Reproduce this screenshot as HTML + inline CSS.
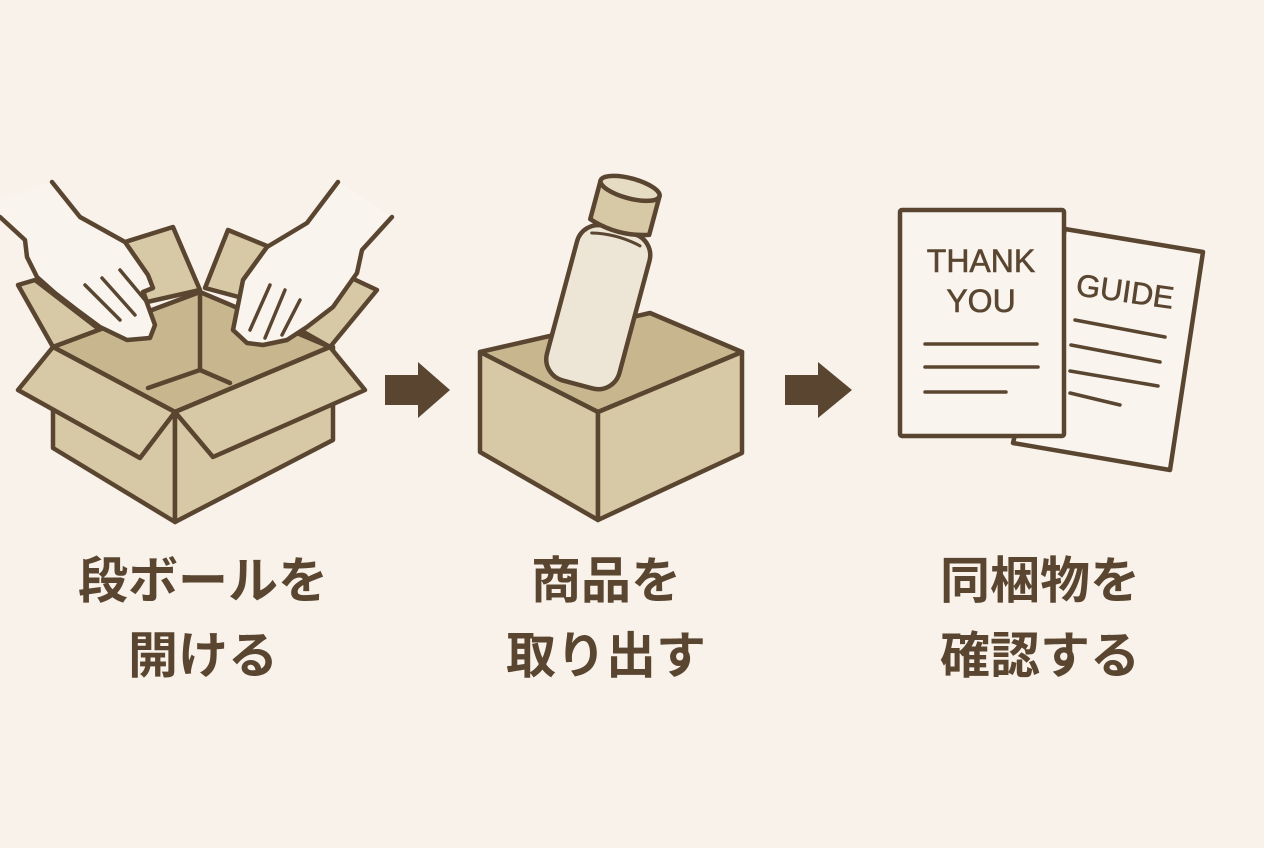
<!DOCTYPE html>
<html><head><meta charset="utf-8"><style>
html,body{margin:0;padding:0;background:#f8f2ea;}
svg{display:block}
.t{font-family:"Liberation Sans","Noto Sans CJK JP",sans-serif;font-weight:700;fill:#5a4630;}
</style></head><body>
<svg width="1264" height="848" viewBox="0 0 1264 848" xmlns="http://www.w3.org/2000/svg">
<rect width="1264" height="848" fill="#f8f2ea"/>
<g stroke="#5a4630" stroke-width="4.5" stroke-linejoin="round" stroke-linecap="round">
<!-- Box 1 -->
<polygon points="125,242 173,227 200,290 147,302" fill="#d8c9a6"/>
<polygon points="205,288 228,230 272,248 250,300" fill="#d8c9a6"/>
<polygon points="18,285 35,280 100,330 53,347" fill="#d8c9a6"/>
<polygon points="330,347 377,290 345,275 300,330" fill="#d8c9a6"/>
<polygon points="53,347 200,292 330,347 175,412" fill="#c8b68f"/>
<polyline points="200,292 200,370 148,388" fill="none"/>
<line x1="200" y1="370" x2="230" y2="383"/>
<polygon points="53,347 175,412 175,522 53,448" fill="#d8c9a6"/>
<polygon points="175,412 333,347 333,440 175,522" fill="#d8c9a6"/>
<polygon points="53,347 175,412 140,458 18,390" fill="#d8c9a6"/>
<polygon points="175,412 330,347 365,390 213,457" fill="#d8c9a6"/>
<!-- left hand -->
<path d="M52,182 L80,217 L125,242 L148,275 L153,288 L143,292 L155,325 L150,338 L127,340 L100,327 L77,310 L55,293 L37,277 L27,257 L25,240 L0,217 L0,200 Z" fill="#f9f5ee" stroke="none"/>
<path d="M52,182 L80,217 L125,242 L148,275 L153,288 L143,292 L155,325 L150,338 L127,340 L100,327 L77,310 L55,293 L37,277 L27,257 L25,240 L0,217" fill="none"/>
<path d="M85,285 L120,320 M102,278 L135,315 M120,270 L145,300" fill="none" stroke-width="3.5"/>
<!-- right hand -->
<path d="M338,182 L307,223 L267,247 L243,280 L233,330 L247,343 L263,345 L287,340 L307,327 L333,307 L357,273 L362,250 L392,217 Z" fill="#f9f5ee" stroke="none"/>
<path d="M338,182 L307,223 L267,247 L243,280 L233,330 L247,343 L263,345 L287,340 L307,327 L333,307 L357,273 L362,250 L392,217" fill="none"/>
<path d="M270,285 L250,330 M285,290 L265,338 M300,300 L282,335" fill="none" stroke-width="3.5"/>
<!-- arrows -->
<path d="M385,375 L418,375 L418,362 L450,390 L418,418 L418,405 L385,405 Z" fill="#5a4630" stroke="none"/>
<path d="M785,375 L818,375 L818,362 L852,390 L818,418 L818,405 L785,405 Z" fill="#5a4630" stroke="none"/>
<!-- Box 2 -->
<polygon points="480,352 650,313 742,352 598,412" fill="#c8b68f"/>
<g transform="rotate(15 605 280)">
<rect x="568" y="228" width="75" height="160" rx="22" fill="#ede6d6"/>
<path d="M580,238 Q605,232 630,238" fill="none" stroke-width="3"/>
<path d="M575,185 L575,225 Q605,235 636,225 L636,185" fill="#d8c9a6"/>
<ellipse cx="605.5" cy="185" rx="30.5" ry="10" fill="#e6dcc4"/>
</g>
<polygon points="480,352 598,412 598,520 480,452" fill="#d8c9a6"/>
<polygon points="598,412 742,352 742,453 598,520" fill="#d8c9a6"/>
<!-- papers -->
<polygon points="1065,229 1203,252 1170,470 1013,443" fill="#f9f5ee"/>
<g stroke-width="3.5">
<line x1="1075" y1="320" x2="1165" y2="337"/>
<line x1="1071" y1="345" x2="1160" y2="362"/>
<line x1="1070" y1="371" x2="1158" y2="386"/>
<line x1="1070" y1="393" x2="1120" y2="405"/>
</g>
<rect x="900" y="210" width="164" height="226" rx="2" fill="#f9f5ee"/>
<g stroke-width="3.5">
<line x1="925" y1="344" x2="1037" y2="344"/>
<line x1="925" y1="367" x2="1038" y2="367"/>
<line x1="925" y1="392" x2="1006" y2="392"/>
</g>
</g>
<text x="981" y="272" text-anchor="middle" font-family="Liberation Sans, sans-serif" font-size="32" fill="#5a4630" stroke="#5a4630" stroke-width="0.6">THANK</text>
<text x="981" y="312" text-anchor="middle" font-family="Liberation Sans, sans-serif" font-size="32" fill="#5a4630" stroke="#5a4630" stroke-width="0.6">YOU</text>
<text x="1125" y="302" text-anchor="middle" font-family="Liberation Sans, sans-serif" font-size="31" fill="#5a4630" stroke="#5a4630" stroke-width="0.6" transform="rotate(8 1125 292)">GUIDE</text>
<text class="t" x="203" y="598" text-anchor="middle" font-size="50">段ボールを</text>
<text class="t" x="203" y="673" text-anchor="middle" font-size="50">開ける</text>
<text class="t" x="606" y="598" text-anchor="middle" font-size="50">商品を</text>
<text class="t" x="606" y="673" text-anchor="middle" font-size="50">取り出す</text>
<text class="t" x="1040" y="598" text-anchor="middle" font-size="50">同梱物を</text>
<text class="t" x="1040" y="673" text-anchor="middle" font-size="50">確認する</text>
</svg>
</body></html>
